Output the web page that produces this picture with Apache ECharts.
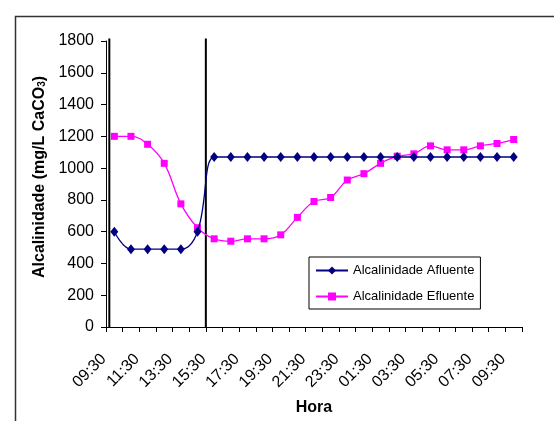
<!DOCTYPE html>
<html>
<head>
<meta charset="utf-8">
<script src="https://cdn.jsdelivr.net/npm/echarts@6/dist/echarts.min.js"></script>
<style>
  html, body { margin: 0; padding: 0; background: #fff; }
  #chart { width: 554px; height: 421px; }
</style>
</head>
<body>
<div id="chart"></div>
<script>
// Hourly sampling times over a full day
const horas = ['09:30','10:30','11:30','12:30','13:30','14:30','15:30','16:30','17:30','18:30',
  '19:30','20:30','21:30','22:30','23:30','00:30','01:30','02:30','03:30','04:30',
  '05:30','06:30','07:30','08:30','09:30'];

// Alkalinity (mg/L CaCO3)
const afluente = [600, 490, 490, 490, 490, 600, 1070, 1070, 1070, 1070,
  1070, 1070, 1070, 1070, 1070, 1070, 1070, 1070, 1070, 1070,
  1070, 1070, 1070, 1070, 1070];
const efluente = [1200, 1200, 1150, 1030, 775, 625, 555, 540, 555, 555,
  580, 690, 790, 815, 925, 965, 1030, 1075, 1090, 1140,
  1115, 1115, 1140, 1155, 1180];

// Positions (in category units) of the phase-change reference lines
const marcos = [0.2, 6.0];
const yTicks = { min: 0, max: 1800, step: 200 };

const font = 'Arial, "Liberation Sans", sans-serif';

const refSeries = marcos.map(function (p) {
  return {
    type: 'line', xAxisIndex: 1, yAxisIndex: 0, silent: true, clip: false,
    symbol: 'none', data: [[p, yTicks.min], [p, 1815]],
    lineStyle: { color: '#000', width: 2 }, z: 1
  };
});

const chart = echarts.init(document.getElementById('chart'), null, { renderer: 'canvas' });
chart.setOption({
  backgroundColor: '#fff',
  animation: false,
  textStyle: { fontFamily: font, color: '#000' },
  graphic: [{
    type: 'rect', left: 13, top: 14,
    shape: { width: 560, height: 430 },
    style: { fill: 'none', stroke: '#333', lineWidth: 1.5 }, silent: true
  }],
  grid: { left: 106, right: 32, top: 41, bottom: 94 },
  legend: {
    data: ['Alcalinidade Afluente', 'Alcalinidade Efluente'],
    orient: 'vertical', left: 309, top: 257,
    itemWidth: 32, itemHeight: 10, itemGap: 13, itemTextGap: 4,
    padding: [7, 6, 6, 6],
    borderColor: '#000', borderWidth: 1, backgroundColor: '#fff',
    textStyle: { fontSize: 13, color: '#000', fontFamily: font }
  },
  xAxis: [{
    type: 'category', data: horas, boundaryGap: true,
    name: 'Hora', nameLocation: 'middle', nameGap: 73,
    nameTextStyle: { fontSize: 16, fontWeight: 'bold', color: '#000', fontFamily: font },
    axisLine: { lineStyle: { color: '#000', width: 1 } },
    axisTick: { show: true, interval: 0, length: 5, lineStyle: { color: '#000' } },
    axisLabel: { interval: 1, rotate: 45, fontSize: 16, color: '#000', margin: 19,
      padding: [0, 15, 0, 0], fontFamily: font },
    splitLine: { show: false }
  }, {
    type: 'value', min: 0, max: horas.length, show: false
  }],
  yAxis: {
    type: 'value', min: yTicks.min, max: yTicks.max, interval: yTicks.step,
    name: 'Alcalinidade (mg/L CaCO{s|3})', nameLocation: 'middle', nameGap: 57, nameRotate: 90,
    nameTextStyle: { fontSize: 16, fontWeight: 'bold', color: '#000', fontFamily: font,
      padding: [0, 0, 0, 14],
      rich: { s: { fontSize: 10, fontWeight: 'bold', verticalAlign: 'bottom', padding: [5, 0, 0, 0], fontFamily: font } } },
    axisLine: { show: true, lineStyle: { color: '#000', width: 1 } },
    axisTick: { show: true, length: 5, lineStyle: { color: '#000' } },
    axisLabel: { fontSize: 16, color: '#000', margin: 12, fontFamily: font,
      formatter: function (v) { return String(v); } },
    splitLine: { show: false }
  },
  series: [{
    name: 'Alcalinidade Afluente', type: 'line', data: afluente, smooth: 0.4,
    symbol: 'diamond', symbolSize: [8, 10],
    itemStyle: { color: '#000080' }, lineStyle: { color: '#000080', width: 1.3 }, z: 3
  }, {
    name: 'Alcalinidade Efluente', type: 'line', data: efluente, smooth: 0.4,
    symbol: 'rect', symbolSize: 7,
    itemStyle: { color: '#FF00FF' }, lineStyle: { color: '#FF00FF', width: 1.3 }, z: 2
  }].concat(refSeries)
});
</script>
</body>
</html>
